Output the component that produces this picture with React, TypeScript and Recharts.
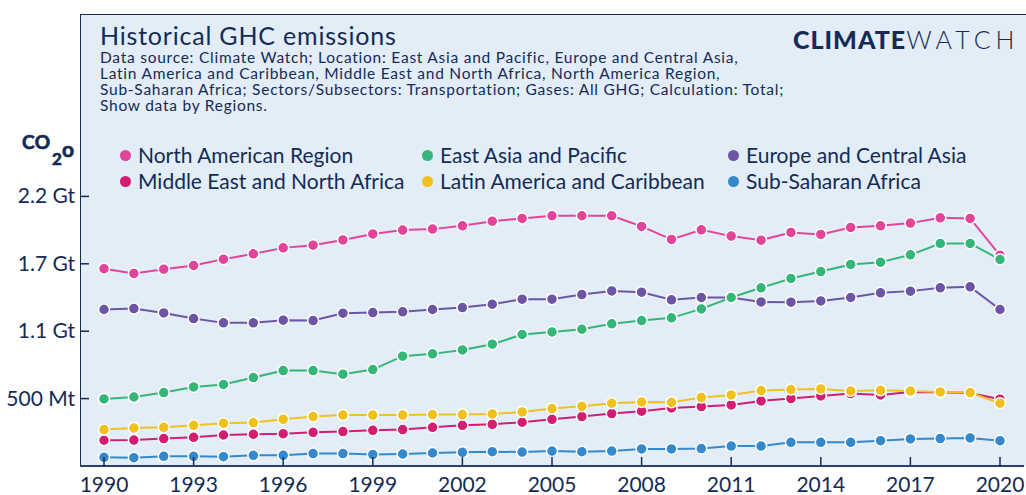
import React from "react";
import { LineChart, Line, XAxis, YAxis } from "recharts";

const years = [
  1990, 1991, 1992, 1993, 1994, 1995, 1996, 1997, 1998, 1999, 2000, 2001, 2002,
  2003, 2004, 2005, 2006, 2007, 2008, 2009, 2010, 2011, 2012, 2013, 2014, 2015,
  2016, 2017, 2018, 2019, 2020,
];

// Mt CO2e
const northAmerica = [
  1610, 1571, 1606, 1636, 1688, 1731, 1780, 1802, 1845, 1894, 1925, 1933, 1960,
  1998, 2020, 2042, 2042, 2042, 1955, 1849, 1927, 1876, 1843, 1906, 1890, 1947,
  1960, 1982, 2025, 2020, 1719,
];
const middleEast = [
  210, 212, 224, 234, 253, 259, 264, 275, 281, 291, 297, 316, 332, 340, 357,
  381, 403, 428, 447, 474, 485, 498, 531, 550, 572, 591, 580, 604, 602, 596,
  545,
];
const eastAsia = [
  547, 563, 599, 645, 665, 722, 779, 779, 749, 787, 896, 915, 947, 994, 1073,
  1094, 1116, 1160, 1187, 1209, 1282, 1375, 1454, 1530, 1587, 1645, 1663, 1723,
  1816, 1816, 1685,
];
const latinAmerica = [
  297, 310, 316, 332, 349, 354, 381, 403, 416, 416, 416, 420, 420, 425, 441,
  469, 487, 512, 523, 520, 558, 580, 616, 624, 629, 613, 618, 613, 604, 599,
  512,
];
const europe = [
  1277, 1285, 1249, 1203, 1168, 1168, 1190, 1187, 1247, 1252, 1258, 1277, 1293,
  1320, 1361, 1361, 1399, 1429, 1418, 1356, 1375, 1375, 1339, 1337, 1347, 1375,
  1413, 1427, 1454, 1462, 1277,
];
const subSaharan = [
  71, 68, 79, 79, 76, 87, 87, 101, 101, 93, 98, 106, 112, 117, 114, 122, 117,
  122, 139, 139, 142, 163, 163, 193, 193, 193, 207, 221, 224, 229, 207,
];

const xTicks = [1990, 1993, 1996, 1999, 2002, 2005, 2008, 2011, 2014, 2017, 2020];
const yTicks = [550, 1100, 1650, 2200];
const yTickLabels = ["500 Mt", "1.1 Gt", "1.7 Gt", "2.2 Gt"];

const series = [
  { key: "na", name: "North American Region", color: "#e2449a", values: northAmerica },
  { key: "eca", name: "Europe and Central Asia", color: "#6c55a5", values: europe },
  { key: "me", name: "Middle East and North Africa", color: "#d21d73", values: middleEast },
  { key: "eap", name: "East Asia and Pacific", color: "#33b677", values: eastAsia },
  { key: "lac", name: "Latin America and Caribbean", color: "#f0c01f", values: latinAmerica },
  { key: "ssa", name: "Sub-Saharan Africa", color: "#3489cc", values: subSaharan },
];

const legendRows = [
  ["na", "eap", "eca"],
  ["me", "lac", "ssa"],
];

const data = years.map((y, i) => {
  const row: Record<string, number> = { year: y };
  series.forEach((s) => (row[s.key] = s.values[i]));
  return row;
});

const NAVY = "#142b55";
const FONT = "Lato, 'Open Sans', sans-serif";

// recharts hands the tick a y just below the axis (axis + tickSize + margin)
const XTick = (props: any) => {
  const { x, y, payload } = props;
  return (
    <g>
      <line x1={x} x2={x} y1={y - 17} y2={y - 8} stroke={NAVY} strokeWidth={1.5} />
      <text x={x} y={y + 18} textAnchor="middle" fill={NAVY} fontSize={21} fontFamily={FONT}>
        {payload.value}
      </text>
    </g>
  );
};

const YTick = (props: any) => {
  const { y, payload } = props;
  const idx = yTicks.indexOf(payload.value);
  return (
    <g>
      <line x1={80} x2={89} y1={y} y2={y} stroke={NAVY} strokeWidth={1.5} />
      <text x={75} y={y + 7} textAnchor="end" fill={NAVY} fontSize={21} fontFamily={FONT}>
        {yTickLabels[idx]}
      </text>
    </g>
  );
};

const unitStyle = {
  fontFamily: FONT,
  fontWeight: 700,
  fill: NAVY,
  stroke: NAVY,
  strokeWidth: 0.7,
} as const;

export default function App() {
  const colOffsets = [120, 422, 728];
  return (
    <div
      style={{
        position: "absolute",
        left: 0,
        top: 0,
        width: 1026,
        height: 495,
        background: "#fff",
        overflow: "hidden",
        fontFamily: FONT,
        color: NAVY,
      }}
    >
      <div
        style={{
          position: "absolute",
          left: 80,
          top: 14,
          width: 960,
          height: 452,
          background: "#e3edf8",
          borderTop: `1.5px solid ${NAVY}`,
          borderLeft: `1.5px solid ${NAVY}`,
          boxSizing: "border-box",
        }}
      />
      <div
        style={{
          position: "absolute",
          left: 100,
          top: 20,
          fontSize: 25,
          lineHeight: "30px",
          letterSpacing: 0.8,
          whiteSpace: "nowrap",
        }}
      >
        Historical GHC emissions
      </div>
      <div
        style={{
          position: "absolute",
          left: 100,
          top: 49,
          fontSize: 15.5,
          lineHeight: "16px",
          letterSpacing: 0.75,
          whiteSpace: "nowrap",
        }}
      >
        Data source: Climate Watch; Location: East Asia and Pacific, Europe and Central Asia,
        <br />
        Latin America and Caribbean, Middle East and North Africa, North America Region,
        <br />
        Sub-Saharan Africa; Sectors/Subsectors: Transportation; Gases: All GHG; Calculation: Total;
        <br />
        Show data by Regions.
      </div>
      <div
        style={{
          position: "absolute",
          left: 793,
          top: 24,
          fontSize: 25,
          lineHeight: "30px",
          letterSpacing: 1,
          whiteSpace: "nowrap",
        }}
      >
        <span style={{ fontWeight: 900 }}>CLIMATE</span>
        <span style={{ fontWeight: 300, letterSpacing: 5 }}>WATCH</span>
      </div>
      <svg width={80} height={40} style={{ position: "absolute", left: 0, top: 130 }}>
        <text x={22} y={19} fontSize={19} letterSpacing={0.5} style={unitStyle}>
          CO
        </text>
        <text x={52} y={35} fontSize={17} style={unitStyle}>
          2
        </text>
        <text x={62} y={27} fontSize={21} style={unitStyle}>
          o
        </text>
      </svg>
      {legendRows.map((row, r) =>
        row.map((k, c) => {
          const s = series.find((q) => q.key === k)!;
          return (
            <div
              key={k}
              style={{
                position: "absolute",
                left: colOffsets[c],
                top: 142 + r * 26,
                fontSize: 21,
                lineHeight: "26px",
                whiteSpace: "nowrap",
                display: "flex",
                alignItems: "center",
              }}
            >
              <span
                style={{
                  display: "inline-block",
                  width: 11,
                  height: 11,
                  borderRadius: "50%",
                  background: s.color,
                  marginRight: 7,
                }}
              />
              {s.name}
            </div>
          );
        })
      )}
      <div style={{ position: "absolute", left: 0, top: 0 }}>
        <LineChart
          width={1026}
          height={495}
          data={data}
          margin={{ top: 129, right: 2, bottom: 0, left: 0 }}
        >
          <XAxis
            dataKey="year"
            type="number"
            domain={[1990, 2020]}
            ticks={xTicks}
            padding={{ left: 24, right: 24 }}
            axisLine={{ stroke: "#2b4270", strokeWidth: 2 }}
            tickLine={false}
            tick={<XTick />}
            height={29}
            interval={0}
          />
          <YAxis
            type="number"
            domain={[0, 2750]}
            ticks={yTicks}
            axisLine={false}
            tickLine={false}
            tick={<YTick />}
            width={80}
            interval={0}
          />
          {series.map((s) => (
            <Line
              key={s.key}
              dataKey={s.key}
              name={s.name}
              stroke={s.color}
              strokeWidth={2}
              dot={{ r: 5.5, fill: s.color, stroke: "#fff", strokeWidth: 1.5 }}
              activeDot={false}
              isAnimationActive={false}
            />
          ))}
        </LineChart>
      </div>
    </div>
  );
}
